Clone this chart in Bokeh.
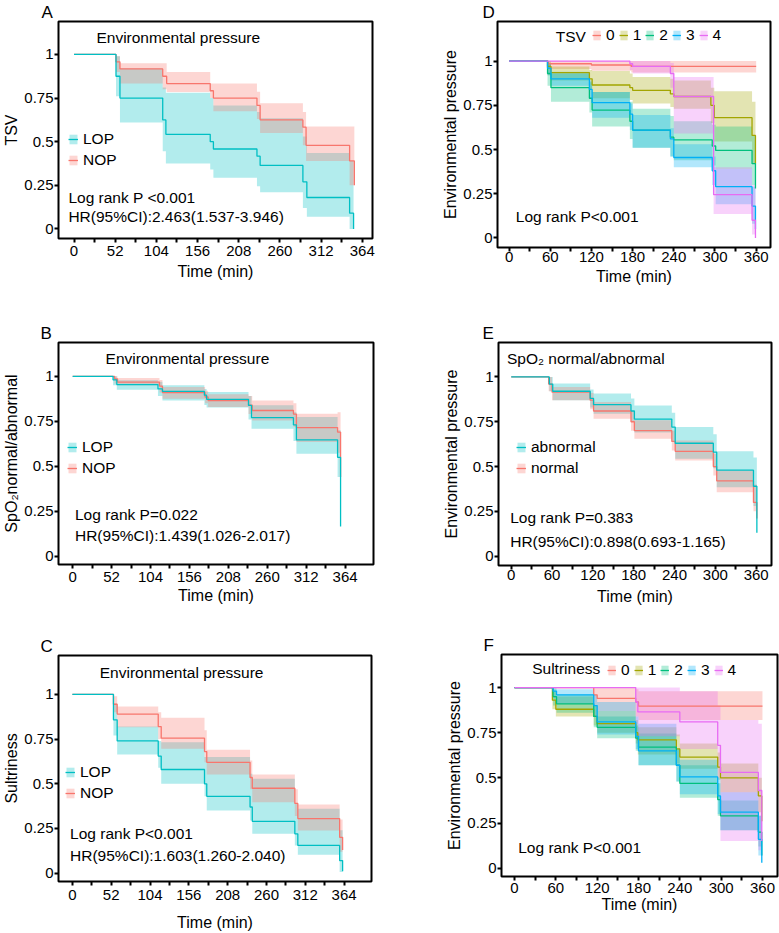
from bokeh.plotting import figure
from bokeh.models import Range1d, FixedTicker, Label, Legend, LegendItem
from bokeh.layouts import column, row
from bokeh.embed import file_html
from bokeh.resources import INLINE

FONT = "Liberation Sans"
RED, OLIVE, GREEN, BLUE, MAGENTA, CYAN = "#F8766D", "#A3A500", "#00BF7D", "#00B0F6", "#E76BF3", "#00BFC4"

Y_TICKS = [0, 0.25, 0.5, 0.75, 1]
Y_LABELS = ["0", "0.25", "0.5", "0.75", "1"]
X_TICKS_52 = [0, 52, 104, 156, 208, 260, 312, 364]
X_MINOR_52 = [26, 78, 130, 182, 234, 286, 338]
X_TICKS_60 = [0, 60, 120, 180, 240, 300, 360]
X_MINOR_60 = [30, 90, 150, 210, 270, 330]

# ---- A: TSV by environmental pressure (LOP / NOP) ----
A_LOP_T = [0, 53, 58, 112, 116, 172, 176, 231, 235, 289, 294, 348, 353]
A_LOP_S = [1, 0.875, 0.75, 0.625, 0.542, 0.5, 0.458, 0.417, 0.364, 0.27, 0.18, 0.09, 0.0]
A_LOP_LO = [1, 0.76, 0.61, 0.445, 0.375, 0.34, 0.293, 0.245, 0.21, 0.12, 0.07, 0.0, 0.0]
A_LOP_HI = [1, 0.99, 0.92, 0.81, 0.78, 0.75, 0.707, 0.67, 0.634, 0.53, 0.435, 0.39, 0.0]
A_NOP_T = [0, 53, 58, 112, 117, 172, 176, 231, 235, 289, 293, 348, 354]
A_NOP_S = [1, 0.958, 0.917, 0.875, 0.833, 0.792, 0.75, 0.708, 0.625, 0.583, 0.479, 0.39, 0.25]
A_NOP_LO = [1, 0.9, 0.833, 0.8, 0.785, 0.75, 0.675, 0.63, 0.55, 0.48, 0.39, 0.25, 0.25]
A_NOP_HI = [1, 0.99, 0.95, 0.95, 0.9, 0.833, 0.833, 0.786, 0.72, 0.67, 0.587, 0.587, 0.25]

# ---- B: SpO2 normal/abnormal by environmental pressure ----
B_LOP_T = [0, 54, 59, 114, 120, 176, 179, 235, 239, 295, 299, 354, 358]
B_LOP_S = [1, 0.98, 0.954, 0.93, 0.916, 0.895, 0.872, 0.838, 0.77, 0.73, 0.647, 0.55, 0.165]
B_LOP_LO = [1, 0.95, 0.926, 0.89, 0.866, 0.84, 0.826, 0.76, 0.709, 0.64, 0.57, 0.44, 0.165]
B_LOP_HI = [1, 1.0, 0.978, 0.97, 0.95, 0.93, 0.913, 0.89, 0.839, 0.8, 0.774, 0.7, 0.165]
B_NOP_T = [0, 56, 60, 116, 120, 177, 181, 235, 240, 295, 299, 354, 358]
B_NOP_S = [1, 0.985, 0.968, 0.945, 0.91, 0.885, 0.865, 0.84, 0.81, 0.79, 0.715, 0.69, 0.44]
B_NOP_LO = [1, 0.96, 0.95, 0.91, 0.875, 0.85, 0.83, 0.79, 0.755, 0.72, 0.635, 0.575, 0.44]
B_NOP_HI = [1, 1.0, 0.99, 0.98, 0.94, 0.92, 0.9, 0.89, 0.866, 0.85, 0.792, 0.8, 0.44]

# ---- C: Sultriness by environmental pressure ----
C_LOP_T = [0, 55, 60, 115, 119, 177, 180, 238, 241, 298, 302, 358, 362]
C_LOP_S = [1, 0.858, 0.74, 0.655, 0.58, 0.5, 0.43, 0.37, 0.29, 0.22, 0.155, 0.07, 0.01]
C_LOP_LO = [1, 0.77, 0.664, 0.59, 0.5, 0.43, 0.35, 0.295, 0.22, 0.155, 0.103, 0.006, 0.01]
C_LOP_HI = [1, 0.95, 0.82, 0.74, 0.733, 0.65, 0.65, 0.556, 0.528, 0.387, 0.36, 0.24, 0.01]
C_NOP_T = [0, 55, 60, 115, 119, 177, 180, 238, 241, 298, 302, 358, 362]
C_NOP_S = [1, 0.945, 0.89, 0.82, 0.755, 0.68, 0.62, 0.535, 0.475, 0.39, 0.305, 0.2, 0.13]
C_NOP_LO = [1, 0.9, 0.817, 0.75, 0.696, 0.62, 0.552, 0.47, 0.397, 0.32, 0.239, 0.12, 0.13]
C_NOP_HI = [1, 0.99, 0.933, 0.9, 0.87, 0.8, 0.69, 0.63, 0.552, 0.47, 0.384, 0.3, 0.13]

# ---- D: environmental pressure by TSV level ----
D0_T = [0, 57, 120, 178, 360]
D0_S = [1, 0.985, 0.978, 0.97, 0.97]
D0_LO = [1, 0.955, 0.945, 0.935, 0.97]
D0_HI = [1, 1.0, 1.0, 1.0, 0.97]
D1_T = [0, 56, 61, 117, 121, 176, 180, 235, 240, 294, 299, 354, 359]
D1_S = [1, 0.97, 0.935, 0.9, 0.865, 0.85, 0.835, 0.815, 0.8, 0.75, 0.68, 0.58, 0.42]
D1_LO = [1, 0.92, 0.89, 0.84, 0.79, 0.78, 0.76, 0.74, 0.73, 0.65, 0.545, 0.42, 0.42]
D1_HI = [1, 1.0, 0.97, 0.95, 0.944, 0.93, 0.91, 0.9, 0.89, 0.85, 0.83, 0.77, 0.42]
D2_T = [0, 56, 61, 117, 121, 176, 180, 235, 240, 296, 301, 354, 359]
D2_S = [1, 0.93, 0.85, 0.79, 0.723, 0.66, 0.61, 0.57, 0.555, 0.52, 0.495, 0.42, 0.28]
D2_LO = [1, 0.86, 0.77, 0.71, 0.63, 0.56, 0.51, 0.46, 0.44, 0.41, 0.39, 0.3, 0.28]
D2_HI = [1, 0.99, 0.93, 0.88, 0.825, 0.77, 0.73, 0.69, 0.66, 0.64, 0.63, 0.58, 0.28]
D3_T = [0, 56, 61, 117, 121, 176, 180, 235, 240, 296, 301, 354, 359]
D3_S = [1, 0.96, 0.9, 0.84, 0.765, 0.7, 0.61, 0.56, 0.455, 0.38, 0.29, 0.18, 0.05]
D3_LO = [1, 0.92, 0.86, 0.79, 0.68, 0.61, 0.51, 0.46, 0.4, 0.3, 0.19, 0.08, 0.05]
D3_HI = [1, 0.99, 0.94, 0.89, 0.825, 0.76, 0.695, 0.62, 0.53, 0.46, 0.39, 0.29, 0.05]
D4_T = [0, 176, 180, 235, 240, 298, 354, 359]
D4_S = [1, 0.985, 0.97, 0.93, 0.8, 0.245, 0.1, 0.0]
D4_LO = [1, 0.95, 0.93, 0.85, 0.59, 0.135, 0.02, 0.0]
D4_HI = [1, 1.0, 1.0, 0.99, 0.91, 0.4, 0.3, 0.0]

# ---- E: environmental pressure by SpO2 status ----
E_AB_T = [0, 56, 61, 116, 121, 176, 181, 236, 241, 297, 302, 356, 361]
E_AB_S = [1, 0.96, 0.92, 0.88, 0.845, 0.81, 0.765, 0.72, 0.63, 0.58, 0.48, 0.39, 0.13]
E_AB_LO = [1, 0.92, 0.87, 0.83, 0.795, 0.75, 0.69, 0.64, 0.544, 0.49, 0.385, 0.28, 0.13]
E_AB_HI = [1, 1.0, 0.963, 0.93, 0.907, 0.88, 0.84, 0.8, 0.72, 0.68, 0.585, 0.55, 0.13]
E_NO_T = [0, 55, 60, 116, 121, 176, 181, 236, 241, 297, 302, 356, 361]
E_NO_S = [1, 0.96, 0.915, 0.87, 0.81, 0.75, 0.7, 0.64, 0.585, 0.5, 0.42, 0.3, 0.21]
E_NO_LO = [1, 0.92, 0.87, 0.82, 0.767, 0.7, 0.655, 0.59, 0.534, 0.45, 0.357, 0.25, 0.21]
E_NO_HI = [1, 1.0, 0.944, 0.91, 0.86, 0.81, 0.758, 0.7, 0.646, 0.57, 0.48, 0.4, 0.21]

# ---- F: environmental pressure by sultriness level ----
F0_T = [0, 115, 120, 176, 180, 360]
F0_S = [1, 0.96, 0.94, 0.92, 0.897, 0.897]
F0_LO = [1, 0.9, 0.87, 0.84, 0.82, 0.897]
F0_HI = [1, 1.0, 1.0, 0.99, 0.98, 0.897]
F1_T = [0, 55, 60, 115, 120, 176, 179, 235, 240, 295, 299, 354, 359]
F1_S = [1, 0.93, 0.88, 0.84, 0.8, 0.75, 0.71, 0.66, 0.615, 0.56, 0.5, 0.4, 0.26]
F1_LO = [1, 0.88, 0.84, 0.79, 0.75, 0.69, 0.63, 0.58, 0.55, 0.49, 0.42, 0.31, 0.26]
F1_HI = [1, 0.98, 0.95, 0.9, 0.87, 0.82, 0.78, 0.74, 0.69, 0.64, 0.58, 0.5, 0.26]
F2_T = [0, 56, 61, 115, 120, 176, 180, 235, 240, 295, 299, 354, 359]
F2_S = [1, 0.95, 0.91, 0.84, 0.78, 0.72, 0.67, 0.57, 0.47, 0.38, 0.29, 0.2, 0.07]
F2_LO = [1, 0.9, 0.86, 0.78, 0.72, 0.65, 0.57, 0.48, 0.39, 0.29, 0.21, 0.12, 0.07]
F2_HI = [1, 0.99, 0.96, 0.9, 0.84, 0.79, 0.745, 0.66, 0.57, 0.47, 0.375, 0.29, 0.07]
F3_T = [0, 56, 61, 115, 120, 176, 180, 235, 240, 295, 299, 354, 359]
F3_S = [1, 0.98, 0.96, 0.9, 0.81, 0.73, 0.65, 0.57, 0.505, 0.4, 0.31, 0.16, 0.03]
F3_LO = [1, 0.94, 0.91, 0.84, 0.74, 0.66, 0.57, 0.48, 0.41, 0.3, 0.21, 0.07, 0.03]
F3_HI = [1, 1.0, 0.99, 0.96, 0.92, 0.84, 0.8, 0.66, 0.6, 0.5, 0.42, 0.29, 0.03]
F4_T = [0, 176, 179, 240, 295, 299, 354, 359]
F4_S = [1, 0.92, 0.865, 0.81, 0.68, 0.53, 0.43, 0.15]
F4_LO = [1, 0.8, 0.73, 0.66, 0.5, 0.15, 0.1, 0.15]
F4_HI = [1, 1.0, 1.0, 0.98, 0.9, 0.82, 0.8, 0.15]


def step_xy(t, v):
    """Expand a step function (value v[i] holds from t[i] to t[i+1]) into polygon vertices."""
    xs, ys = [], []
    for i in range(len(t) - 1):
        xs += [t[i], t[i + 1]]
        ys += [v[i], v[i]]
    return xs, ys


def draw_curves(p, curves, lines_reversed=False):
    """Draw confidence ribbons first, then the survival step lines on top."""
    bands = []
    for t, s, lo, hi, color in curves:
        xs, ylo = step_xy(t, lo)
        _, yhi = step_xy(t, hi)
        bands.append(p.varea(x=xs, y1=ylo, y2=yhi, fill_color=color, fill_alpha=0.3))
    order = list(range(len(curves)))
    if lines_reversed:
        order = order[::-1]
    lines = [None] * len(curves)
    for i in order:
        t, s, lo, hi, color = curves[i]
        lines[i] = p.step(x=t, y=s, mode="after", line_color=color, line_width=1.3)
    return list(zip(bands, lines))


def panel(width, height, borders, xr, yr, xticks, xminor, ylabel, letter, letter_offset,
          xstand=3, xlabstand=0):
    left, right, top, bottom = borders
    p = figure(width=width, height=height, x_range=Range1d(*xr), y_range=Range1d(*yr),
               output_backend="svg", toolbar_location=None,
               min_border_left=left, min_border_right=right,
               min_border_top=top, min_border_bottom=bottom)
    p.frame_align = False
    p.grid.visible = False
    p.outline_line_color = "black"
    p.outline_line_width = 2
    p.outline_line_alpha = 1

    # panel letter sits in the title slot, pulled left of the frame
    p.title.text = letter
    p.title.align = "left"
    p.title.offset = letter_offset
    p.title.standoff = 0
    p.title.text_font = FONT
    p.title.text_font_size = "17px"
    p.title.text_font_style = "normal"
    p.title.text_color = "black"

    p.xaxis.ticker = FixedTicker(ticks=xticks, minor_ticks=xminor)
    p.yaxis.ticker = FixedTicker(ticks=Y_TICKS, minor_ticks=[])
    p.yaxis.major_label_overrides = {v: lab for v, lab in zip(Y_TICKS, Y_LABELS)}
    p.xaxis.axis_label = "Time (min)"
    p.yaxis.axis_label = ylabel
    for ax in (p.xaxis[0], p.yaxis[0]):
        ax.axis_line_color = None
        ax.major_tick_line_color = "black"
        ax.major_tick_line_width = 2
        ax.major_tick_in = 0
        ax.major_tick_out = 4
        ax.minor_tick_line_color = "black"
        ax.minor_tick_line_width = 2
        ax.minor_tick_in = 0
        ax.minor_tick_out = 4
        ax.major_label_text_font = FONT
        ax.major_label_text_font_size = "15px"
        ax.major_label_text_color = "black"
        ax.axis_label_text_font = FONT
        ax.axis_label_text_font_size = "16px"
        ax.axis_label_text_font_style = "normal"
        ax.axis_label_text_color = "black"
    p.xaxis.major_label_standoff = xstand
    p.xaxis.axis_label_standoff = xlabstand
    p.yaxis.major_label_standoff = 1
    p.yaxis.axis_label_standoff = 1
    return p


def add_text(p, x, y, text, size="15.5px"):
    p.add_layout(Label(x=x, y=y, text=text, text_font=FONT, text_font_size=size,
                       text_color="black", text_baseline="alphabetic", text_align="left"))


def add_legend(p, pairs, labels, loc, orientation="vertical", spacing=3,
               glyph_w=10, standoff=5):
    items = [LegendItem(label=lab, renderers=list(pr)) for lab, pr in zip(labels, pairs)]
    lg = Legend(items=items, location=loc, orientation=orientation, padding=0, margin=0,
                spacing=spacing, glyph_width=glyph_w, glyph_height=12, label_height=12,
                label_width=0, label_standoff=standoff, label_text_font=FONT,
                label_text_font_size="15.5px", label_text_color="black",
                background_fill_alpha=0, border_line_alpha=0)
    p.add_layout(lg)


# ---------------- A ----------------
pA = panel(390, 305, (55, 18, 19, 67), (-19.6, 376.9), (-0.055, 1.189),
           X_TICKS_52, X_MINOR_52, "TSV", "A", -17, xstand=3, xlabstand=4)
rA = draw_curves(pA, [(A_LOP_T, A_LOP_S, A_LOP_LO, A_LOP_HI, CYAN),
                      (A_NOP_T, A_NOP_S, A_NOP_LO, A_NOP_HI, RED)], lines_reversed=True)
add_legend(pA, rA, ["LOP", "NOP"], (10, 69))
add_text(pA, 28.3, 1.10, "Environmental pressure")
add_text(pA, -7.1, 0.178, "Log rank P <0.001")
add_text(pA, -7.1, 0.07, "HR(95%CI):2.463(1.537-3.946)")

# ---------------- B ----------------
pB = panel(390, 310, (55, 17, 37, 51), (-18.9, 402.0), (-0.046, 1.188),
           X_TICKS_52, X_MINOR_52, "SpO\u2082normal/abnormal", "B", -18,
           xstand=3, xlabstand=2)
rB = draw_curves(pB, [(B_LOP_T, B_LOP_S, B_LOP_LO, B_LOP_HI, CYAN),
                      (B_NOP_T, B_NOP_S, B_NOP_LO, B_NOP_HI, RED)], lines_reversed=True)
add_legend(pB, rB, ["LOP", "NOP"], (9, 87))
add_text(pB, 44, 1.10, "Environmental pressure")
add_text(pB, 3.1, 0.234, "Log rank P=0.022")
add_text(pB, 3.1, 0.113, "HR(95%CI):1.439(1.026-2.017)")

# ---------------- C ----------------
pC = panel(390, 318, (55, 19, 40, 52), (-18.6, 400.7), (-0.047, 1.218),
           X_TICKS_52, X_MINOR_52, "Sultriness", "C", -18, xstand=4, xlabstand=11)
rC = draw_curves(pC, [(C_LOP_T, C_LOP_S, C_LOP_LO, C_LOP_HI, CYAN),
                      (C_NOP_T, C_NOP_S, C_NOP_LO, C_NOP_HI, RED)], lines_reversed=True)
add_legend(pC, rC, ["LOP", "NOP"], (7, 79))
add_text(pC, 36.7, 1.123, "Environmental pressure")
add_text(pC, -3.1, 0.224, "Log rank P<0.001")
add_text(pC, -3.1, 0.101, "HR(95%CI):1.603(1.260-2.040)")

# ---------------- D ----------------
pD = panel(389, 305, (107, 9, 19, 58), (-16.9, 380.9), (-0.054, 1.224),
           X_TICKS_60, X_MINOR_60, "Environmental pressure", "D", -15,
           xstand=0, xlabstand=3)
rD = draw_curves(pD, [(D0_T, D0_S, D0_LO, D0_HI, RED),
                      (D1_T, D1_S, D1_LO, D1_HI, OLIVE),
                      (D2_T, D2_S, D2_LO, D2_HI, GREEN),
                      (D3_T, D3_S, D3_LO, D3_HI, BLUE),
                      (D4_T, D4_S, D4_LO, D4_HI, MAGENTA)])
add_legend(pD, rD, ["0", "1", "2", "3", "4"], (95, 203), orientation="horizontal",
           spacing=4, glyph_w=9, standoff=5)
add_text(pD, 67.9, 1.142, "TSV")
add_text(pD, 9.7, 0.123, "Log rank P<0.001")

# ---------------- E ----------------
pE = panel(389, 310, (108, 8, 37, 50), (-18.7, 382.5), (-0.052, 1.192),
           X_TICKS_60, X_MINOR_60, "Environmental pressure", "E", -16,
           xstand=0, xlabstand=5)
rE = draw_curves(pE, [(E_AB_T, E_AB_S, E_AB_LO, E_AB_HI, CYAN),
                      (E_NO_T, E_NO_S, E_NO_LO, E_NO_HI, RED)], lines_reversed=True)
add_legend(pE, rE, ["abnormal", "normal"], (18, 88))
add_text(pE, -6.3, 1.105, "SpO\u2082 normal/abnormal")
add_text(pE, -1.5, 0.216, "Log rank P=0.383")
add_text(pE, -1.5, 0.08, "HR(95%CI):0.898(0.693-1.165)")

# ---------------- F ----------------
pF = panel(389, 318, (111, 2, 39, 57), (-18.9, 381.8), (-0.046, 1.183),
           X_TICKS_60, X_MINOR_60, "Environmental pressure", "F", -18,
           xstand=2, xlabstand=0)
rF = draw_curves(pF, [(F0_T, F0_S, F0_LO, F0_HI, RED),
                      (F1_T, F1_S, F1_LO, F1_HI, OLIVE),
                      (F2_T, F2_S, F2_LO, F2_HI, GREEN),
                      (F3_T, F3_S, F3_LO, F3_HI, BLUE),
                      (F4_T, F4_S, F4_LO, F4_HI, MAGENTA)])
add_legend(pF, rF, ["0", "1", "2", "3", "4"], (106, 197), orientation="horizontal",
           spacing=4, glyph_w=9, standoff=5)
add_text(pF, 25.7, 1.107, "Sultriness")
add_text(pF, 5.4, 0.114, "Log rank P<0.001")

layout = column(row(pA, pD), row(pB, pE), row(pC, pF))

open("out.html", "w").write(file_html(layout, INLINE))
